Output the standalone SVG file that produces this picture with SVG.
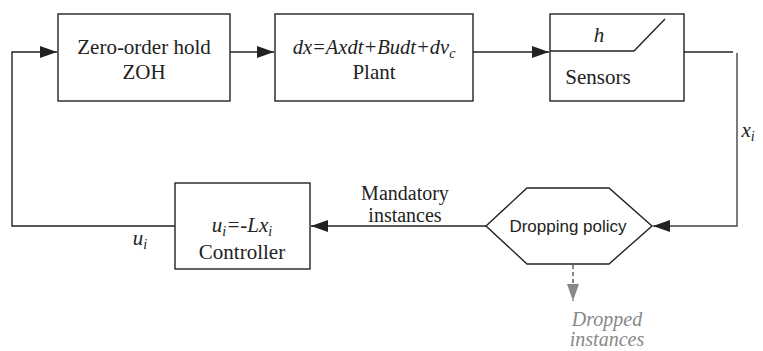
<svg xmlns="http://www.w3.org/2000/svg" width="763" height="351" viewBox="0 0 763 351">
<defs>
<style>
.box{fill:#fff;stroke:#222;stroke-width:1.4}
.ln{fill:none;stroke:#222;stroke-width:1.4}
.t{font-family:"Liberation Serif","Times New Roman",serif;font-size:21px;fill:#222;text-anchor:middle}
.it{font-style:italic}
.sans{font-family:"Liberation Sans",Arial,sans-serif;font-size:17px;fill:#222;text-anchor:middle}
.gray{fill:#888;font-size:20px}
.lbl{font-size:20px}
</style>
<marker id="arr" markerUnits="userSpaceOnUse" markerWidth="18" markerHeight="13" refX="17" refY="6" orient="auto"><path d="M0,0 L17,6 L0,12 z" fill="#222"/></marker>
<marker id="arrg" markerUnits="userSpaceOnUse" markerWidth="18" markerHeight="13" refX="17" refY="6" orient="auto"><path d="M0,0 L17,6 L0,12 z" fill="#888"/></marker>
</defs>
<rect width="763" height="351" fill="#fff"/>
<g id="connectors">
<polyline class="ln" points="175,226 12,226 12,52 57,52" marker-end="url(#arr)"/>
<line class="ln" x1="230" y1="52" x2="274" y2="52" marker-end="url(#arr)"/>
<line class="ln" x1="473" y1="52" x2="549" y2="52" marker-end="url(#arr)"/>
<line class="ln" x1="684" y1="52" x2="733" y2="52"/>
<polyline class="ln" points="737,53 737,226 653,226" style="stroke:#444" marker-end="url(#arr)"/>
<line class="ln" x1="486" y1="226" x2="311" y2="226" marker-end="url(#arr)"/>
<line x1="573" y1="265" x2="573" y2="301" stroke="#888" stroke-width="2" stroke-dasharray="4,3" marker-end="url(#arrg)"/>
<text class="t lbl" x="405" y="200">Mandatory</text>
<text class="t lbl" x="405" y="222">instances</text>
<text class="t it" x="748" y="137">x<tspan font-size="14" dy="4">i</tspan></text>
<text class="t it" x="140" y="245">u<tspan font-size="14" dy="4">i</tspan></text>
<text class="t it gray" x="607" y="326">Dropped</text>
<text class="t it gray" x="607" y="346">instances</text>
</g>
<g id="zoh">
<rect class="box" x="58" y="14" width="172" height="87"/>
<text class="t" x="144" y="54">Zero-order hold</text>
<text class="t" x="144" y="79">ZOH</text>
</g>
<g id="plant">
<rect class="box" x="275" y="14" width="198" height="87"/>
<text class="t it" x="374" y="54" style="font-size:20.5px">dx=Axdt+Budt+dv<tspan font-size="14" dy="4">c</tspan></text>
<text class="t" x="374" y="79">Plant</text>
</g>
<g id="sensors">
<rect class="box" x="550" y="14" width="134" height="87"/>
<polyline class="ln" points="550,51 634,51 665,19"/>
<text class="t it" x="599" y="42">h</text>
<text class="t" x="598" y="84">Sensors</text>
</g>
<g id="controller">
<rect class="box" x="175" y="183" width="135" height="86"/>
<text class="t it" x="242" y="232">u<tspan font-size="14" dy="4">i</tspan><tspan dy="-4">=-Lx</tspan><tspan font-size="14" dy="4">i</tspan></text>
<text class="t" x="242" y="259">Controller</text>
</g>
<g id="dropping">
<polygon class="box" points="486,226 527,188 609,188 652,226 609,264 527,264"/>
<text class="sans" x="568" y="232">Dropping policy</text>
</g>
</svg>
